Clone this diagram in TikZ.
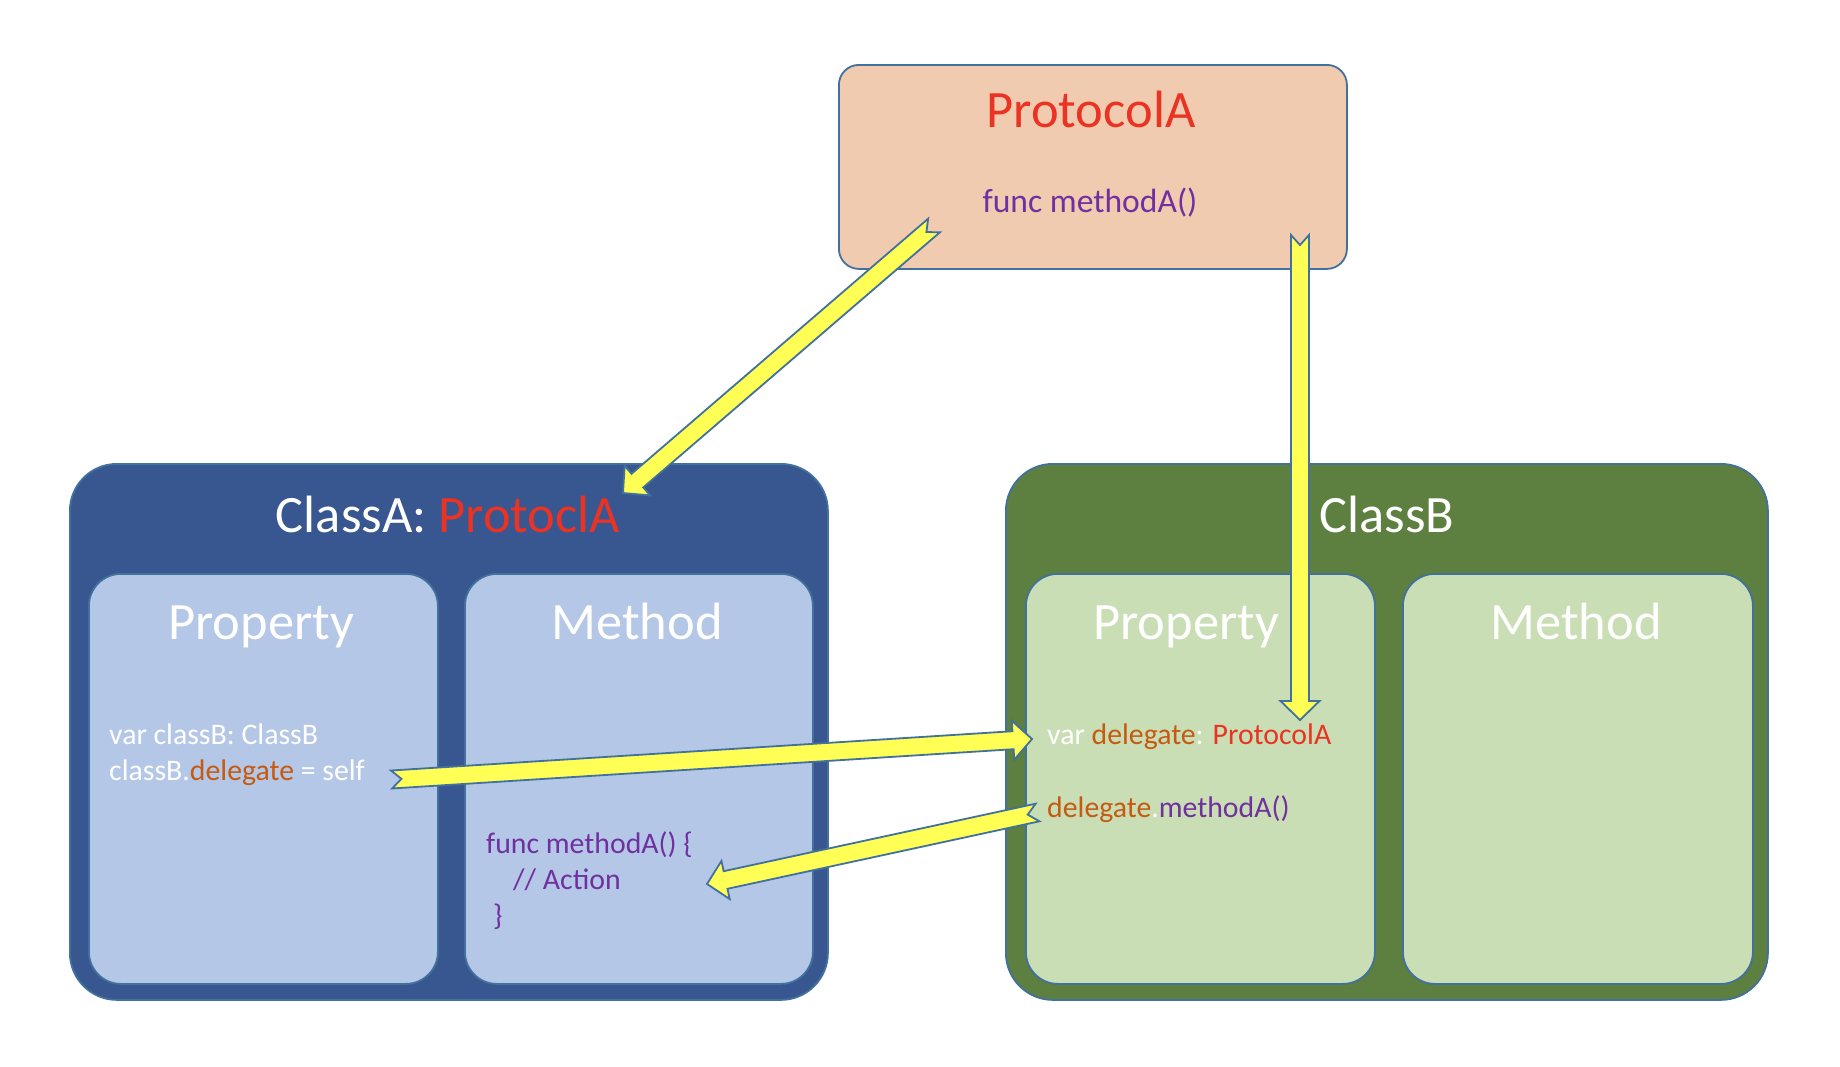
\documentclass[tikz,border=0pt]{standalone}
\usepackage{fontspec}
\setmainfont{Carlito}
\usetikzlibrary{calc}
\definecolor{peach}{HTML}{F1CBB0}
\definecolor{edge}{HTML}{41719C}
\definecolor{bluedark}{HTML}{385791}
\definecolor{bluelight}{HTML}{B4C7E7}
\definecolor{greendark}{HTML}{5D7F3F}
\definecolor{greenlight}{HTML}{C9DEB5}
\definecolor{arrowyellow}{HTML}{FFFF55}
\definecolor{kred}{HTML}{EA3323}
\definecolor{korange}{HTML}{C55A11}
\definecolor{kpurple}{HTML}{7030A0}
\tikzset{
  boxbase/.style={draw=edge, line width=1.8pt, inner sep=0pt, anchor=north west, shape=rectangle},
  protobox/.style={boxbase, fill=peach, rounded corners=20pt},
  outerA/.style={boxbase, fill=bluedark, rounded corners=47pt},
  outerB/.style={boxbase, fill=greendark, rounded corners=47pt},
  innerA/.style={boxbase, fill=bluelight, rounded corners=32pt},
  innerB/.style={boxbase, fill=greenlight, rounded corners=32pt},
  bigtxt/.style={font=\fontsize{52.5}{63}\selectfont, inner sep=0pt, anchor=base},
  midtxt/.style={font=\fontsize{33.6}{40}\selectfont, inner sep=0pt, anchor=base},
  codetxt/.style={font=\fontsize{29.8}{36}\selectfont, inner sep=0pt, anchor=base west},
  blockarr/.style={draw=edge, fill=arrowyellow, line width=1.8pt, line join=miter},
}
\newcommand\blockarrow[2]{%
  \coordinate (ba-h) at ($(#2)!19pt!(#1)$);
  \coordinate (ba-n) at ($(#1)!10pt!(#2)$);
  \draw[blockarr] ($(#1)!9pt!90:(#2)$) -- ($(ba-h)!9pt!-90:(#1)$) -- ($(ba-h)!19.5pt!-90:(#1)$) -- (#2)
    -- ($(ba-h)!19.5pt!90:(#1)$) -- ($(ba-h)!9pt!90:(#1)$) -- ($(#1)!9pt!-90:(#2)$) -- (ba-n) -- cycle;
}
\begin{document}
\begin{tikzpicture}[x=1pt, y=-1pt]
\useasboundingbox (0,0) rectangle (1840,1066);
\fill[white] (0,0) rectangle (1840,1066);

% ProtocolA
\node[protobox, minimum width=508pt, minimum height=204pt] (proto) at (838,64) {};
\node[bigtxt, text=kred] (protoTitle) at (1091,127) {ProtocolA};
\node[midtxt, text=kpurple] (protoFunc) at (1090,212) {func methodA()};

% ClassA
\node[outerA, minimum width=758pt, minimum height=536pt] (classA) at (69,463) {};
\node[innerA, minimum width=349pt, minimum height=410pt] (propA) at (88,573) {};
\node[innerA, minimum width=348pt, minimum height=410pt] (methA) at (464,573) {};
\node[bigtxt, text=white] (titleA) at (448,532) {ClassA: \textcolor{kred}{ProtoclA}};
\node[bigtxt, text=white] (propAh) at (261,639) {Property};
\node[bigtxt, text=white] (methAh) at (637,639) {Method};
\node[codetxt, text=white] (propA1) at (109,744) {var classB: ClassB};
\node[codetxt, text=white] (propA2) at (109,780) {classB.\textcolor{korange}{delegate} = self};
\node[codetxt, text=kpurple] (methA1) at (486,853) {func methodA() \{};
\node[codetxt, text=kpurple] (methA2) at (513,889) {// Action};
\node[codetxt, text=kpurple] (methA3) at (493,925) {\}};

% ClassB
\node[outerB, minimum width=762pt, minimum height=536pt] (classB) at (1005,463) {};
\node[innerB, minimum width=349pt, minimum height=410pt] (propB) at (1025,573) {};
\node[innerB, minimum width=350pt, minimum height=410pt] (methB) at (1402,573) {};
\node[bigtxt, text=white] (titleB) at (1387,532) {ClassB};
\node[bigtxt, text=white] (propBh) at (1186,639) {Property};
\node[bigtxt, text=white] (methBh) at (1576,639) {Method};
\node[codetxt, text=white] (propB1) at (1047,744) {var \textcolor{korange}{delegate}: \textcolor{kred}{ProtocolA}};
\node[codetxt, text=white] (propB2) at (1047,817) {\textcolor{korange}{delegate}.\textcolor{kpurple}{methodA()}};

% arrow end points
\coordinate (a1s) at (934,225.5);
\coordinate (a1e) at (623,493);
\coordinate (a2s) at (1300,235);
\coordinate (a2e) at (1300,720);
\coordinate (a3s) at (391.5,779.5);
\coordinate (a3e) at (1032,739);
\coordinate (a4s) at (1037.5,812.5);
\coordinate (a4e) at (707,884);

\blockarrow{a1s}{a1e}
\blockarrow{a2s}{a2e}
\blockarrow{a3s}{a3e}
\blockarrow{a4s}{a4e}
\end{tikzpicture}
\end{document}
